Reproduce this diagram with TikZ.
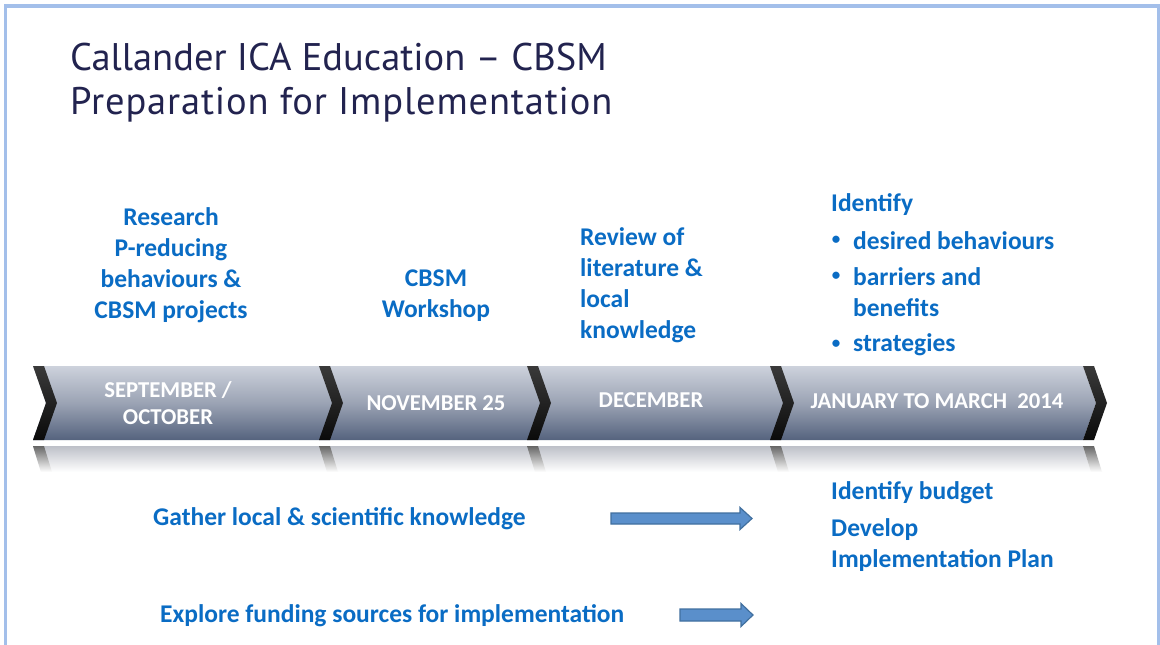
\documentclass[tikz,border=0pt]{standalone}
\usepackage{fontspec}
\setmainfont{Carlito}
\newfontfamily\titlefont{PT Sans}
\usetikzlibrary{calc}
\definecolor{framec}{HTML}{A3BFEA}
\definecolor{titlec}{HTML}{22234F}
\definecolor{bluetxt}{HTML}{0A6CC4}
\definecolor{bartop}{HTML}{CDD2DC}
\definecolor{barmid}{HTML}{9BA3B4}
\definecolor{barbot}{HTML}{55637E}
\definecolor{septop}{HTML}{3A3A3A}
\definecolor{sepbot}{HTML}{0A0A0A}
\definecolor{reftop}{HTML}{BDC0C8}
\definecolor{arrowfill}{HTML}{5A8FCB}
\definecolor{arrowdraw}{HTML}{41709F}
\tikzset{
  titletext/.style={anchor=base west, inner sep=0pt, text=titlec, font=\titlefont\fontsize{38.5}{44}\selectfont},
  bluet/.style={inner sep=0pt, text=bluetxt, font=\bfseries\fontsize{25.5}{31}\selectfont},
  bullett/.style={inner sep=0pt, text=bluetxt, font=\bfseries\fontsize{17}{20}\selectfont},
  bart/.style={inner sep=0pt, text=white, font=\bfseries\fontsize{22.7}{27}\selectfont, align=center},
  blockarrow/.style={fill=arrowfill, draw=arrowdraw, line width=1.2pt, line join=miter},
  sepshade/.style={top color=septop, bottom color=sepbot},
  sepref/.style={top color=black!60, bottom color=white},
}
\begin{document}
\begin{tikzpicture}[x=1pt,y=-1pt]
\useasboundingbox (0,0) rectangle (1160,645);
\fill[white] (0,0) rectangle (1160,645);
% frame
\draw[framec, line width=3.2pt] (5.5,645) -- (5.5,6) -- (1158.5,6) -- (1158.5,645);

% title
\node[titletext] (t1) at (70,70) {Callander ICA Education – CBSM};
\node[titletext] (t2) at (70,114) {\addfontfeature{LetterSpace=2.2}Preparation for Implementation};

% timeline bar body
\shade[top color=bartop, bottom color=barbot, middle color=barmid]
  (33,366) -- (1083,366) -- (1096,403) -- (1083,440) -- (33,440) -- (46,403) -- cycle;
% reflection
\shade[top color=reftop, bottom color=white]
  (33,446) -- (1083,446) -- (1091,472) -- (41,472) -- cycle;
\foreach \sx in {33,319,527,770,1083}{
  \shade[sepshade] (\sx,366) -- (\sx+11,366) -- (\sx+24,403) -- (\sx+11,440) -- (\sx,440) -- (\sx+13,403) -- cycle;
  \shade[sepref] (\sx,446) -- (\sx+11,446) -- (\sx+19,472) -- (\sx+8,472) -- cycle;
}

% bar labels
\node[bart] (sep) at (168,403) {SEPTEMBER /\\OCTOBER};
\node[bart] (nov) at (436,403) {NOVEMBER 25};
\node[bart] (dec) at (651,400) {DECEMBER};
\node[bart] (jan) at (937,401) {JANUARY TO MARCH\ \ 2014};

% upper blue texts
\node[bluet, align=center] (res) at (171,265.5) {Research\\P-reducing\\behaviours \&\\CBSM projects};
\node[bluet, align=center] (ws) at (436,295.5) {CBSM\\Workshop};
\node[bluet, align=left, anchor=west] (rev) at (580,285) {Review of\\literature \&\\local\\knowledge};
\node[bluet, anchor=west] (idf) at (831,205) {Identify};
\node[bullett] (bu1) at (836,240) {•};
\node[bluet, anchor=west] (it1) at (853,241) {desired behaviours};
\node[bullett] (bu2) at (836,276) {•};
\node[bluet, anchor=west, align=left] (it2) at (853,292.5) {barriers and\\benefits};
\node[bullett] (bu3) at (836,344) {•};
\node[bluet, anchor=west] (it3) at (853,345) {strategies};

% lower blue texts
\node[bluet, anchor=west] (gat) at (153,518.5) {Gather local \& scientific knowledge};
\node[bluet, anchor=west] (exp) at (160,615.5) {Explore funding sources for implementation};
\node[bluet, anchor=west] (bud) at (831,493) {Identify budget};
\node[bluet, anchor=west, align=left] (dev) at (831,545) {Develop\\Implementation Plan};

% block arrows
\coordinate (a1s) at (611,518.5);
\coordinate (a1e) at (752,518.5);
\draw[blockarrow] ($(a1s)+(0,-5.5)$) -- ($(a1e)+(-12,-5.5)$) -- ($(a1e)+(-12,-11)$) -- (a1e)
  -- ($(a1e)+(-12,11)$) -- ($(a1e)+(-12,5.5)$) -- ($(a1s)+(0,5.5)$) -- cycle;
\coordinate (a2s) at (680,615);
\coordinate (a2e) at (753,615);
\draw[blockarrow] ($(a2s)+(0,-6)$) -- ($(a2e)+(-12,-6)$) -- ($(a2e)+(-12,-11.5)$) -- (a2e)
  -- ($(a2e)+(-12,11.5)$) -- ($(a2e)+(-12,6)$) -- ($(a2s)+(0,6)$) -- cycle;
\end{tikzpicture}
\end{document}
